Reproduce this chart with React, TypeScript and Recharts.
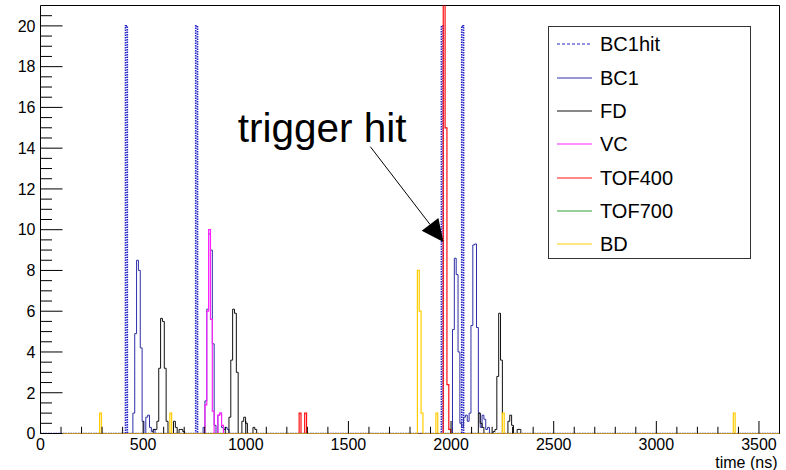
import React from "react"
import {
  ComposedChart,
  Line,
  XAxis,
  YAxis,
  Legend,
  ReferenceArea,
  ReferenceLine,
  ReferenceDot,
} from "recharts"

const FONT = '"Liberation Sans", Arial, Helvetica, sans-serif'

// histogram: 400 bins of 9 ns covering 0..3600 ns
const BIN_NS = 9
const N_BINS = 400

// each entry: [start of first bin (ns), contents of consecutive bins]
type Peak = [number, number[]]

const BC1HIT: Peak[] = [[414, [20]], [756, [20]], [1953, [20]], [2052, [20]]]

const BC1: Peak[] = [
  [450, [1.0, 4.9, 8.5, 8.0, 4.2, 0.6, 0, 0.8, 0.9, 0.3, 0.1, 0.2]],
  [792, [0.3, 1.6, 6.1, 9.8, 9.0, 4.4, 0.4, 0, 0.9, 1.0, 0.3, 0.2]],
  [900, [0.3, 0.2]],
  [2007, [5.1, 8.6, 7.8, 4.0, 0.5, 0.3, 0.8, 0.9, 0.6, 1.0, 5.3, 9.25, 9.3, 5.2, 1.0, 0.3, 0.9, 0.7, 0.2, 0.3]],
]

const FD: Peak[] = [
  [549, [0.2, 0.2]],
  [567, [0.6, 3.2, 5.65, 5.5, 3.2, 0.6, 0, 0, 0, 0.6, 0.3, 0, 0.2, 0.2, 0.1]],
  [918, [0.8, 3.6, 6.1, 5.9, 3.0, 0, 0, 0.6, 0.8, 0.5, 0, 0, 0, 0.3, 0.2]],
  [2133, [1.0, 0.5, 0.3]],
  [2205, [0.1, 0.2, 2.8, 5.9, 3.6, 0, 0, 0, 0.6, 0.9, 0.4, 0, 0, 0.2, 0.2]],
]

const VC: Peak[] = [[801, [1.4, 6.0, 10.0, 5.6, 1.1, 0, 0, 0.9, 1.0, 0.4]]]

const TOF400: Peak[] = [[1260, [1]], [1287, [1]], [1962, [30, 15, 2.4, 0.2]]]

const TOF700: Peak[] = []

const BD: Peak[] = [
  [288, [1]],
  [630, [1]],
  [1836, [8.0, 6.0, 1.0]],
  [1926, [1]],
  [2250, [1]],
  [3375, [1]],
]

const X_TICKS = [
  0, 100, 200, 300, 400, 500, 600, 700, 800, 900, 1000, 1100, 1200, 1300, 1400, 1500, 1600, 1700, 1800,
  1900, 2000, 2100, 2200, 2300, 2400, 2500, 2600, 2700, 2800, 2900, 3000, 3100, 3200, 3300, 3400, 3500, 3600,
]
const Y_TICKS = [
  0, 0.5, 1, 1.5, 2, 2.5, 3, 3.5, 4, 4.5, 5, 5.5, 6, 6.5, 7, 7.5, 8, 8.5, 9, 9.5, 10, 10.5, 11, 11.5, 12,
  12.5, 13, 13.5, 14, 14.5, 15, 15.5, 16, 16.5, 17, 17.5, 18, 18.5, 19, 19.5, 20, 20.5,
]

const SERIES = [
  { key: "BC1hit", peaks: BC1HIT, color: "#2424c8", dash: "1.5 1", width: 1.6 },
  { key: "BC1", peaks: BC1, color: "#2e2ea8", dash: undefined, width: 1 },
  { key: "FD", peaks: FD, color: "#111111", dash: undefined, width: 1 },
  { key: "VC", peaks: VC, color: "#ff22ff", dash: undefined, width: 1.2 },
  { key: "TOF400", peaks: TOF400, color: "#ff1010", dash: undefined, width: 1.2 },
  { key: "TOF700", peaks: TOF700, color: "#33a033", dash: undefined, width: 1 },
  { key: "BD", peaks: BD, color: "#ffcc00", dash: undefined, width: 1.2 },
]

function binContents(peaks: Peak[]) {
  const out = new Array(N_BINS + 1).fill(0)
  peaks.forEach(([t0, vals]) => {
    const b0 = Math.round(t0 / BIN_NS)
    vals.forEach((v, i) => {
      out[b0 + i] = v
    })
  })
  return out
}

const filled = SERIES.map((s) => binContents(s.peaks))
const data = Array.from({ length: N_BINS + 1 }, (_, b) => {
  const row: Record<string, number> = { t: b * BIN_NS }
  SERIES.forEach((s, i) => {
    row[s.key] = filled[i][b]
  })
  return row
})

const XTick = (p: any) => {
  const v = p.payload.value
  const major = v % 500 === 0
  return (
    <g>
      <line x1={p.x} x2={p.x} y1={p.y} y2={p.y - (major ? 12.5 : 6.7)} stroke="#000" strokeWidth={1} />
      {major && (
        <text x={p.x} y={p.y + 16} textAnchor="middle" fontSize={16} fontFamily={FONT} fill="#000">
          {v}
        </text>
      )}
    </g>
  )
}

const YTick = (p: any) => {
  const v = p.payload.value
  const major = v % 2 === 0 && v <= 20
  return (
    <g>
      <line x1={p.x} x2={p.x + (major ? 22 : 11.5)} y1={p.y} y2={p.y} stroke="#000" strokeWidth={1} />
      {major && (
        <text x={p.x - 5} y={p.y + 5.8} textAnchor="end" fontSize={16} fontFamily={FONT} fill="#000">
          {v}
        </text>
      )}
    </g>
  )
}

const Arrow = (p: any) => {
  const { x1, y1, x2, y2 } = p
  const dx = x2 - x1
  const dy = y2 - y1
  const len = Math.sqrt(dx * dx + dy * dy)
  const ux = dx / len
  const uy = dy / len
  const bx = x2 - ux * 22
  const by = y2 - uy * 22
  const pts = `${x2},${y2} ${bx - uy * 10.5},${by + ux * 10.5} ${bx + uy * 10.5},${by - ux * 10.5}`
  return (
    <g>
      <line x1={x1} y1={y1} x2={bx} y2={by} stroke="#000" strokeWidth={1} />
      <polygon points={pts} fill="#000" />
    </g>
  )
}

const LegendBox = () => (
  <div
    style={{
      width: 203,
      height: 233,
      boxSizing: "border-box",
      border: "1px solid #333",
      background: "#fff",
      position: "relative",
      fontFamily: FONT,
    }}
  >
    {SERIES.map((s, i) => (
      <div
        key={s.key}
        style={{
          position: "absolute",
          left: 0,
          top: 0.7 + i * 33.3,
          height: 33.3,
          display: "flex",
          alignItems: "center",
        }}
      >
        <svg width={36} height={4} style={{ marginLeft: 8 }}>
          <line x1={0} x2={35} y1={2} y2={2} stroke={s.color} strokeWidth={1} strokeDasharray={s.dash ? "3 2" : undefined} />
        </svg>
        <span style={{ marginLeft: 7, fontSize: 20, color: "#000", lineHeight: "20px" }}>{s.key}</span>
      </div>
    ))}
  </div>
)

export default function App() {
  return (
    <div style={{ position: "absolute", left: 0, top: 0, width: 786, height: 470, background: "#fff" }}>
      <ComposedChart width={786} height={470} data={data} margin={{ top: 5.5, right: 6.5, bottom: 0, left: 0.5 }}>
        <XAxis
          type="number"
          dataKey="t"
          domain={[0, 3600]}
          ticks={X_TICKS}
          interval={0}
          tickSize={0}
          tickMargin={0}
          tick={XTick}
          axisLine={false}
          height={36.5}
          allowDataOverflow
          label={(props: any) => {
            const vb = props.viewBox || {}
            return (
              <text
                x={vb.x + vb.width - 2}
                y={vb.y + 34}
                textAnchor="end"
                fontSize={16}
                fontFamily={FONT}
                fill="#000"
              >
                time (ns)
              </text>
            )
          }}
        />
        <YAxis
          type="number"
          domain={[0, 21]}
          ticks={Y_TICKS}
          interval={0}
          tickSize={0}
          tickMargin={0}
          tick={YTick}
          axisLine={false}
          width={40}
          allowDataOverflow
        />
        <ReferenceArea x1={0} x2={3600} y1={0} y2={21} fill="none" fillOpacity={0} stroke="#000" strokeWidth={1} />
        {SERIES.map((s) => (
          <Line
            key={s.key}
            dataKey={s.key}
            type="stepAfter"
            stroke={s.color}
            strokeWidth={s.width}
            strokeDasharray={s.dash}
            dot={false}
            activeDot={false}
            isAnimationActive={false}
          />
        ))}
        <ReferenceLine
          segment={[
            { x: 1607, y: 14.07 },
            { x: 1963, y: 9.4 },
          ]}
          shape={Arrow}
        />
        <ReferenceDot
          x={1372}
          y={14.31}
          r={0}
          shape={(p: any) => (
            <text x={p.cx} y={p.cy} textAnchor="middle" fontSize={40.5} fontFamily={FONT} fill="#000">
              trigger hit
            </text>
          )}
        />
        <Legend
          layout="horizontal"
          verticalAlign="middle"
          align="center"
          wrapperStyle={{ left: 548, top: 26, width: 203, height: 233 }}
          content={() => <LegendBox />}
        />
      </ComposedChart>
    </div>
  )
}
